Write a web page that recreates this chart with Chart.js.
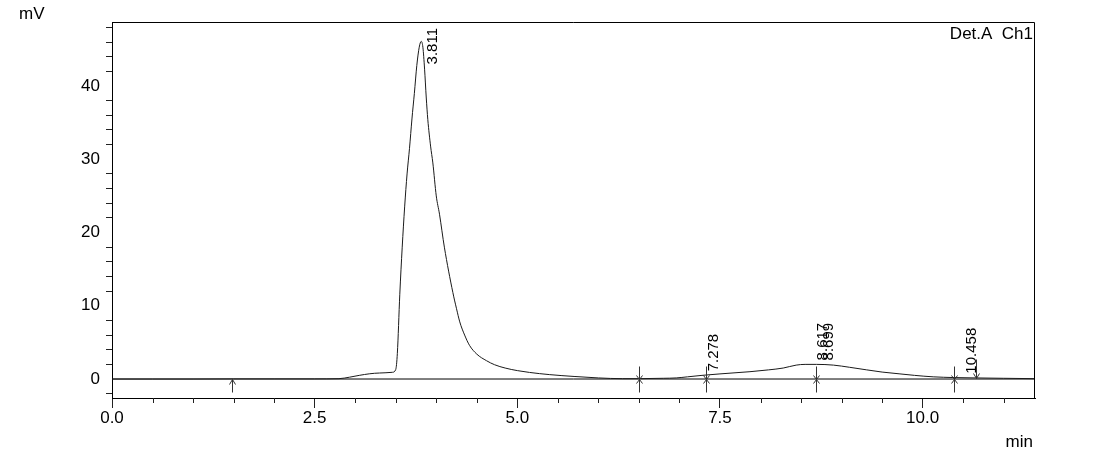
<!DOCTYPE html>
<html>
<head>
<meta charset="utf-8">
<script src="https://cdn.jsdelivr.net/npm/chart.js@4/dist/chart.umd.min.js"></script>
<style>
  html, body { margin: 0; padding: 0; background: #fff; }
  canvas { display: block; }
</style>
</head>
<body>
<canvas id="chromChart" width="1096" height="461"></canvas>
<script>
// retention time (min) and detector signal (mV)
const times = [0, 0.5, 1.0, 1.5, 2.0, 2.5, 2.8, 2.93, 3.05, 3.18, 3.3, 3.46, 3.5, 3.52, 3.55, 3.58,
  3.61, 3.64, 3.67, 3.70, 3.73, 3.76, 3.79, 3.815, 3.835, 3.856, 3.876, 3.896, 3.93, 3.958,
  4.0, 4.04, 4.10, 4.205, 4.25, 4.29, 4.35, 4.41, 4.5, 4.62, 4.72, 4.85, 5.0, 5.15, 5.4, 5.7,
  6.0, 6.3, 6.5, 6.8, 6.96, 7.1, 7.278, 7.5, 7.87, 8.1, 8.28, 8.44, 8.55, 8.69, 8.9, 9.1,
  9.31, 9.5, 9.72, 9.9, 10.13, 10.39, 10.66, 11.0, 11.386];
const signal = [0, 0, 0, 0.02, 0.02, 0.02, 0.05, 0.25, 0.5, 0.72, 0.82, 0.92, 1.3, 3.5, 11.5, 18.0,
  23.5, 28.0, 31.5, 35.5, 39.0, 42.8, 45.3, 46.1, 45.3, 42.3, 38.5, 35.4, 31.8, 29.5,
  25.0, 22.5, 18.0, 11.8, 9.6, 7.8, 6.0, 4.6, 3.4, 2.5, 1.95, 1.5, 1.15, 0.9, 0.6, 0.35,
  0.15, 0.05, 0.05, 0.1, 0.15, 0.3, 0.5, 0.7, 1.0, 1.25, 1.5, 1.9, 2.0, 2.0, 1.9, 1.6,
  1.25, 0.95, 0.7, 0.5, 0.3, 0.2, 0.15, 0.1, 0.05];

// integration marks
const markTimes = [6.50, 7.33, 8.69, 10.39];
const startArrowTime = 1.48;
const endArrowTime = 10.66;

// peak labels
const peakTimes = [3.811, 7.278, 8.617, 8.699, 10.458];
const peakLabels = ['3.811', '7.278', '8.617', '8.699', '10.458'];

const xMin = 0;
const xMax = 11.386;
const yMin = -2.59;
const yMax = 48.74;
const xTickStep = 0.5;
const xLabelStep = 2.5;
const yTickStep = 2;
const yLabelStep = 10;

const FONT = "'Liberation Sans', Arial, sans-serif";

const isMultiple = (v, step) => Math.abs(v / step - Math.round(v / step)) < 1e-6;

const tracePoints = times.map((t, i) => ({ x: t, y: signal[i] }));
const baselinePoints = [{ x: xMin, y: 0 }, { x: xMax, y: 0 }];

function signalPixelAt(chart, px) {
    const pts = chart.getDatasetMeta(0).data;
    for (let i = 1; i < pts.length; i++) {
        if (pts[i].x >= px) {
            const a = pts[i - 1], b = pts[i];
            const f = (px - a.x) / (b.x - a.x);
            return a.y + (b.y - a.y) * f;
        }
    }
    return pts[pts.length - 1].y;
}

const decorations = {
    id: 'decorations',
    afterDraw(chart) {
        const { ctx, chartArea, scales } = chart;
        const x = scales.x, y = scales.y;
        const y0 = Math.round(y.getPixelForValue(0)) + 0.5;
        ctx.save();

        // frame top and right
        ctx.strokeStyle = '#000';
        ctx.lineWidth = 1;
        ctx.beginPath();
        ctx.moveTo(chartArea.left, chartArea.top + 0.5);
        ctx.lineTo(Math.round(chartArea.right) - 0.5, chartArea.top + 0.5);
        ctx.lineTo(Math.round(chartArea.right) - 0.5, chartArea.bottom);
        ctx.stroke();

        // short minor ticks on the time axis
        ctx.strokeStyle = '#222';
        ctx.beginPath();
        x.ticks.forEach(t => {
            if (isMultiple(t.value, xLabelStep)) return;
            const px = Math.round(x.getPixelForValue(t.value)) + 0.5;
            ctx.moveTo(px, chartArea.bottom);
            ctx.lineTo(px, chartArea.bottom + 5);
        });
        ctx.stroke();

        // integration marks
        ctx.strokeStyle = '#333';
        ctx.beginPath();
        markTimes.forEach(t => {
            const px = Math.round(x.getPixelForValue(t)) + 0.5;
            ctx.moveTo(px, y0 - 13);
            ctx.lineTo(px, y0 + 13);
            ctx.moveTo(px - 3, y0 - 4);
            ctx.lineTo(px + 3, y0 + 4);
            ctx.moveTo(px + 3, y0 - 4);
            ctx.lineTo(px - 3, y0 + 4);
        });
        // start arrow (pointing up)
        let ax = Math.round(x.getPixelForValue(startArrowTime)) + 0.5;
        ctx.moveTo(ax, y0 + 13);
        ctx.lineTo(ax, y0);
        ctx.moveTo(ax - 3, y0 + 5);
        ctx.lineTo(ax, y0);
        ctx.lineTo(ax + 3, y0 + 5);
        // end arrow (pointing down)
        ax = Math.round(x.getPixelForValue(endArrowTime)) + 0.5;
        ctx.moveTo(ax, y0 - 20);
        ctx.lineTo(ax, y0 - 1);
        ctx.moveTo(ax - 3, y0 - 6);
        ctx.lineTo(ax, y0 - 1);
        ctx.lineTo(ax + 3, y0 - 6);
        ctx.stroke();

        // peak labels, rotated
        ctx.fillStyle = '#000';
        ctx.font = '15px ' + FONT;
        ctx.textAlign = 'left';
        ctx.textBaseline = 'middle';
        peakTimes.forEach((t, i) => {
            const px = x.getPixelForValue(t);
            const w = ctx.measureText(peakLabels[i]).width;
            let bottom = signalPixelAt(chart, px) - 4;
            if (bottom - w < chartArea.top + 6) bottom = chartArea.top + 6 + w;
            ctx.save();
            ctx.translate(px + 12, bottom);
            ctx.rotate(-Math.PI / 2);
            ctx.fillText(peakLabels[i], 0, 0);
            ctx.restore();
        });

        // axis units and channel name
        ctx.font = '17px ' + FONT;
        ctx.textBaseline = 'alphabetic';
        ctx.textAlign = 'left';
        ctx.fillText('mV', 19, 19);
        ctx.textAlign = 'right';
        ctx.fillText('min', 1033, 447);
        ctx.fillText('Det.A  Ch1', chartArea.right - 2, chartArea.top + 17);
        ctx.restore();
    }
};

const ctx = document.getElementById('chromChart');
const chromChart = new Chart(ctx, {
    type: 'line',
    data: {
        datasets: [
            {
                data: tracePoints,
                borderColor: '#1a1a1a',
                borderWidth: 1,
                pointRadius: 0,
                cubicInterpolationMode: 'monotone',
                fill: false
            },
            {
                data: baselinePoints,
                borderColor: '#000',
                borderWidth: 1,
                pointRadius: 0,
                fill: false
            }
        ]
    },
    options: {
        responsive: false,
        animation: false,
        devicePixelRatio: 1,
        layout: { padding: { top: 22, right: 61, left: 0, bottom: 0 } },
        plugins: {
            legend: { display: false },
            tooltip: { enabled: false }
        },
        scales: {
            x: {
                type: 'linear',
                min: xMin,
                max: xMax,
                afterFit(scale) { scale.height = 63; },
                border: { display: true, color: '#000', width: 1 },
                grid: {
                    drawOnChartArea: false,
                    drawTicks: true,
                    tickLength: 10,
                    color: c => (c.tick && isMultiple(c.tick.value, xLabelStep)) ? '#222' : 'rgba(0,0,0,0)'
                },
                ticks: {
                    stepSize: xTickStep,
                    includeBounds: false,
                    autoSkip: false,
                    maxRotation: 0,
                    padding: 0,
                    color: '#000',
                    font: { family: FONT, size: 17 },
                    callback: v => isMultiple(v, xLabelStep) ? v.toFixed(1) : ''
                }
            },
            y: {
                min: yMin,
                max: yMax,
                afterFit(scale) { scale.width = 112; },
                border: { display: true, color: '#000', width: 1 },
                grid: {
                    drawOnChartArea: false,
                    drawTicks: true,
                    tickLength: 6,
                    color: c => (c.tick && isMultiple(c.tick.value, yLabelStep)) ? 'rgba(0,0,0,0)' : '#222'
                },
                ticks: {
                    stepSize: yTickStep,
                    includeBounds: false,
                    autoSkip: false,
                    padding: 6,
                    color: '#000',
                    font: { family: FONT, size: 17 },
                    callback: v => isMultiple(v, yLabelStep) ? String(v) : ''
                }
            }
        }
    },
    plugins: [decorations]
});
</script>
</body>
</html>
